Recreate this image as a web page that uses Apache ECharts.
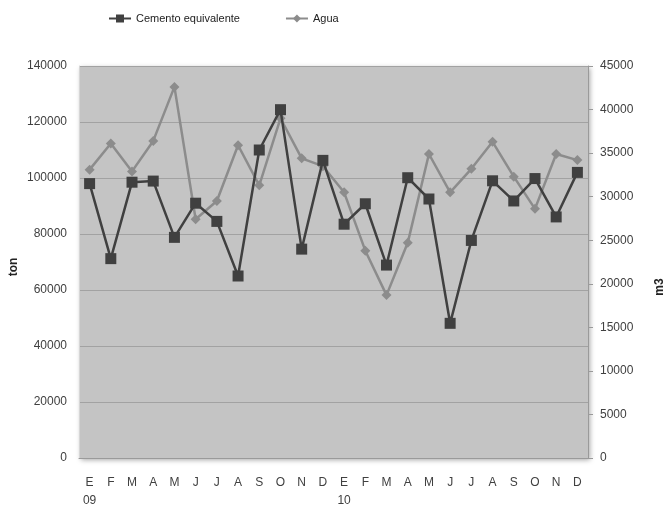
<!DOCTYPE html>
<html>
<head>
<meta charset="utf-8">
<script src="https://cdn.jsdelivr.net/npm/echarts@6/dist/echarts.min.js"></script>
<style>
html,body{margin:0;padding:0;background:#ffffff;}
#chart{width:664px;height:506px;}
</style>
</head>
<body>
<div id="chart"></div>
<script>
var months = ["E","F","M","A","M","J","J","A","S","O","N","D","E","F","M","A","M","J","J","A","S","O","N","D"];
var yearLabels = {0: "09", 12: "10"};
var cemento = [98000, 71200, 98500, 98900, 78800, 91000, 84500, 65000, 110000, 124400, 74600, 106300,
               83500, 90800, 68900, 100100, 92500, 48100, 77700, 99000, 91800, 99800, 86100, 102000];
var agua = [33100, 36100, 32900, 36400, 42600, 27400, 29500, 35900, 31300, 39000, 34400, 33500,
            30500, 23800, 18700, 24700, 34900, 30500, 33200, 36300, 32300, 28600, 34900, 34200];
var leftTicks = {min: 0, max: 140000, interval: 20000};
var rightTicks = {min: 0, max: 45000, interval: 5000};

var categories = months.map(function (m, i) {
  return yearLabels[i] ? m + "\n" + yearLabels[i] : m;
});

var FONT = "'Liberation Sans', sans-serif";
var plain = function (v) { return String(v); };
var chart = echarts.init(document.getElementById('chart'), null, {renderer: 'canvas'});
chart.setOption({
  animation: false,
  backgroundColor: '#ffffff',
  textStyle: {fontFamily: FONT},
  legend: {
    left: 108, top: 13, padding: 0,
    itemWidth: 22, itemHeight: 10, itemGap: 45,
    textStyle: {fontFamily: FONT, fontSize: 11, color: '#222'},
    data: ['Cemento equivalente', 'Agua']
  },
  grid: {
    left: 79, right: 76, top: 66, bottom: 48,
    outerBoundsMode: 'none', containLabel: false,
    show: true, backgroundColor: '#c4c4c4', borderWidth: 0,
    shadowColor: 'rgba(0,0,0,0.35)', shadowBlur: 5, shadowOffsetX: 2, shadowOffsetY: 2
  },
  xAxis: {
    type: 'category', data: categories, boundaryGap: true,
    axisLine: {show: true, lineStyle: {color: '#9a9a9a'}},
    axisTick: {show: false},
    axisLabel: {interval: 0, margin: 16, fontFamily: FONT, fontSize: 12, color: '#404040', lineHeight: 18, verticalAlign: 'top'}
  },
  yAxis: [{
    type: 'value', position: 'left',
    min: leftTicks.min, max: leftTicks.max, interval: leftTicks.interval,
    name: 'ton', nameLocation: 'middle', nameGap: 59, nameRotate: 90, nameMoveOverlap: false,
    nameTextStyle: {fontFamily: FONT, fontSize: 12, fontWeight: 'bold', color: '#222', padding: [0, 10, 0, 0]},
    axisLine: {show: true, lineStyle: {color: '#d6d6d6', width: 1}},
    axisTick: {show: false},
    axisLabel: {margin: 12, fontFamily: FONT, fontSize: 12, color: '#404040', formatter: plain},
    splitLine: {show: true, lineStyle: {color: '#a2a2a2', width: 1}}
  }, {
    type: 'value', position: 'right',
    min: rightTicks.min, max: rightTicks.max, interval: rightTicks.interval,
    name: 'm3', nameLocation: 'middle', nameGap: 66, nameRotate: 90, nameMoveOverlap: false,
    nameTextStyle: {fontFamily: FONT, fontSize: 12, fontWeight: 'bold', color: '#222', padding: [0, 50, 0, 0]},
    axisLine: {show: true, lineStyle: {color: '#9a9a9a', width: 1}},
    axisTick: {show: true, inside: false, length: 5, lineStyle: {color: '#9a9a9a'}},
    axisLabel: {margin: 12, fontFamily: FONT, fontSize: 12, color: '#404040', formatter: plain},
    splitLine: {show: false}
  }],
  series: [{
    name: 'Cemento equivalente', type: 'line', yAxisIndex: 0, data: cemento,
    symbol: 'rect', symbolSize: 11,
    lineStyle: {color: '#404040', width: 2.5},
    itemStyle: {color: '#404040'}, z: 3
  }, {
    name: 'Agua', type: 'line', yAxisIndex: 1, data: agua,
    symbol: 'diamond', symbolSize: 10,
    lineStyle: {color: '#8c8c8c', width: 2.5},
    itemStyle: {color: '#8c8c8c'}, z: 2
  }]
});
</script>
</body>
</html>
